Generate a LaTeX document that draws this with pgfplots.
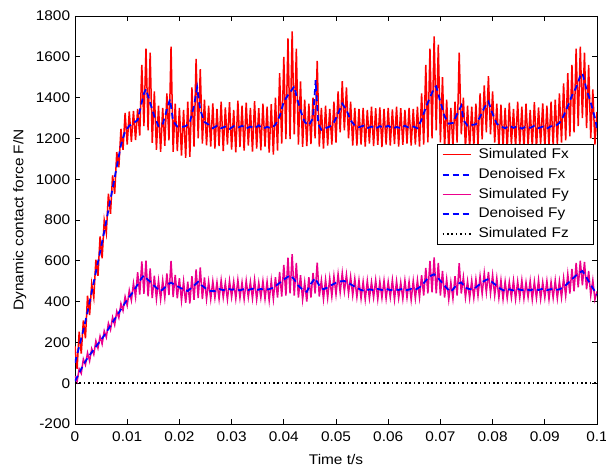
\documentclass[border=0pt]{standalone}
\usepackage{fontspec}
\setmainfont{Liberation Sans}[FakeStretch=1.1]
\usepackage{pgfplots}
\pgfplotsset{compat=1.18}

\begin{document}
\fontsize{14pt}{16pt}\selectfont
\begin{tikzpicture}
\begin{axis}[
  name=ax,
  scale only axis, width=522pt, height=408pt,
  xmin=0, xmax=0.1, ymin=-200, ymax=1800,
  xtick={0,0.01,0.02,0.03,0.04,0.05,0.06,0.07,0.08,0.09,0.1},
  xticklabels={0,0.01,0.02,0.03,0.04,0.05,0.06,0.07,0.08,0.09,0.1},
  ytick={-200,0,200,400,600,800,1000,1200,1400,1600,1800},
  yticklabels={-200,0,200,400,600,800,1000,1200,1400,1600,1800},
  tick align=inside, xtick pos=both, ytick pos=both,
  xticklabel pos=bottom, yticklabel pos=left,
  major tick length=5pt, minor tick num=0,
  every tick/.style={black, line width=0.7pt},
  axis line style={line width=0.8pt},
  tick label style={font=\fontsize{14pt}{16pt}\selectfont},
  xticklabel style={yshift=-3pt},
  label style={font=\fontsize{14pt}{16pt}\selectfont},
  xlabel={Time t/s},
  xlabel style={yshift=-3pt},
  ylabel={Dynamic contact force F/N},
  legend style={at={(0.994,0.686)}, anchor=north east, draw=black,
    line width=0.7pt, fill=white, inner xsep=4pt, inner ysep=3pt,
    font=\fontsize{14pt}{16pt}\selectfont, row sep=4.8pt,
    nodes={inner sep=1pt, text height=10pt, text depth=3pt, text width=110pt, align=left},
    /tikz/every odd column/.append style={column sep=6pt}},
  legend cell align=left,
  legend image code/.code={\draw[#1] (0pt,0pt) -- (28pt,0pt);},
]
% simulated Fx (high-frequency oscillation)
\addplot[color=red, line width=1.5pt,
  legend image code/.code={\draw[color=red, line width=1pt] (0pt,0pt) -- (28pt,0pt);}] coordinates {
(0,180)(0.0004,70)(0.0008,252)(0.0012,145)(0.0016,308)(0.002,220)(0.0024,429)(0.0028,334)(0.0032,487)(0.0036,420)
(0.004,605)(0.0044,526)(0.0048,719)(0.0052,612)(0.0056,799)(0.006,736)(0.0064,929)(0.0068,830)(0.0072,1019)(0.0076,928)
(0.008,1133)(0.0084,1058)(0.0088,1247)(0.0092,1144)(0.0096,1325)(0.01,1170)(0.0104,1332)(0.0108,1183)(0.0112,1335)(0.0116,1192)
(0.012,1345)(0.0124,1214)(0.0128,1560)(0.0132,1260)(0.0136,1640)(0.014,1240)(0.0144,1620)(0.0148,1178)(0.0152,1430)(0.0156,1144)
(0.016,1360)(0.0164,1134)(0.0168,1350)(0.0172,1164)(0.0176,1420)(0.018,1190)(0.0184,1650)(0.0188,1134)(0.0192,1370)(0.0196,1138)
(0.02,1350)(0.0204,1116)(0.0208,1340)(0.0212,1105)(0.0216,1380)(0.022,1110)(0.0224,1450)(0.0228,1160)(0.0232,1590)(0.0236,1200)
(0.024,1540)(0.0244,1174)(0.0248,1390)(0.0252,1166)(0.0256,1360)(0.026,1160)(0.0264,1372)(0.0268,1150)(0.0272,1345)(0.0276,1162)
(0.028,1380)(0.0284,1138)(0.0288,1352)(0.0292,1170)(0.0296,1378)(0.03,1145)(0.0304,1340)(0.0308,1132)(0.0312,1385)(0.0316,1158)
(0.032,1360)(0.0324,1140)(0.0328,1375)(0.0332,1165)(0.0336,1350)(0.034,1135)(0.0344,1382)(0.0348,1150)(0.0352,1348)(0.0356,1142)
(0.036,1370)(0.0364,1160)(0.0368,1355)(0.0372,1130)(0.0376,1368)(0.038,1120)(0.0384,1400)(0.0388,1140)(0.0392,1520)(0.0396,1174)
(0.04,1600)(0.0404,1196)(0.0408,1690)(0.0412,1196)(0.0416,1725)(0.042,1220)(0.0424,1640)(0.0428,1170)(0.0432,1480)(0.0436,1158)
(0.044,1390)(0.0444,1162)(0.0448,1370)(0.0452,1172)(0.0456,1400)(0.046,1200)(0.0464,1580)(0.0468,1160)(0.0472,1350)(0.0476,1150)
(0.048,1360)(0.0484,1165)(0.0488,1345)(0.0492,1170)(0.0496,1380)(0.05,1180)(0.0504,1430)(0.0508,1230)(0.0512,1480)(0.0516,1240)
(0.052,1450)(0.0524,1200)(0.0528,1380)(0.0532,1165)(0.0536,1350)(0.054,1165)(0.0544,1345)(0.0548,1170)(0.0552,1350)(0.0556,1160)
(0.056,1340)(0.0564,1175)(0.0568,1355)(0.0572,1162)(0.0576,1348)(0.058,1168)(0.0584,1352)(0.0588,1158)(0.0592,1345)(0.0596,1170)
(0.06,1350)(0.0604,1165)(0.0608,1342)(0.0612,1172)(0.0616,1355)(0.062,1160)(0.0624,1348)(0.0628,1168)(0.0632,1340)(0.0636,1175)
(0.064,1350)(0.0644,1165)(0.0648,1345)(0.0652,1170)(0.0656,1355)(0.066,1160)(0.0664,1420)(0.0668,1170)(0.0672,1560)(0.0676,1180)
(0.068,1640)(0.0684,1200)(0.0688,1700)(0.0692,1240)(0.0696,1660)(0.07,1180)(0.0704,1500)(0.0708,1150)(0.0712,1390)(0.0716,1140)
(0.072,1350)(0.0724,1160)(0.0728,1380)(0.0732,1180)(0.0736,1620)(0.074,1220)(0.0744,1400)(0.0748,1150)(0.0752,1360)(0.0756,1150)
(0.076,1355)(0.0764,1160)(0.0768,1370)(0.0772,1170)(0.0776,1420)(0.078,1195)(0.0784,1460)(0.0788,1230)(0.0792,1505)(0.0796,1220)
(0.08,1430)(0.0804,1180)(0.0808,1370)(0.0812,1155)(0.0816,1365)(0.082,1160)(0.0824,1350)(0.0828,1150)(0.0832,1375)(0.0836,1168)
(0.084,1345)(0.0844,1155)(0.0848,1380)(0.0852,1162)(0.0856,1355)(0.086,1148)(0.0864,1370)(0.0868,1165)(0.0872,1340)(0.0876,1158)
(0.088,1378)(0.0884,1150)(0.0888,1352)(0.0892,1170)(0.0896,1372)(0.09,1155)(0.0904,1360)(0.0908,1160)(0.0912,1380)(0.0916,1165)
(0.092,1390)(0.0924,1170)(0.0928,1420)(0.0932,1180)(0.0936,1470)(0.094,1190)(0.0944,1520)(0.0948,1210)(0.0952,1560)(0.0956,1230)
(0.096,1640)(0.0964,1260)(0.0968,1650)(0.0972,1300)(0.0976,1620)(0.098,1250)(0.0984,1560)(0.0988,1200)(0.0992,1440)(0.0996,1170)
(0.1,1330)};
\addlegendentry{Simulated Fx}
% denoised Fx
\addplot[color=blue, line width=1.8pt, dash pattern=on 6pt off 4pt] coordinates {
(0,100)(0.0008,180)(0.0016,260)(0.0024,349)(0.0032,447)(0.004,545)(0.0048,643)(0.0056,743)(0.0064,849)(0.0072,955)
(0.008,1061)(0.0088,1167)(0.0096,1235)(0.0104,1262)(0.0112,1275)(0.012,1290)(0.0128,1378)(0.0132,1420)(0.0136,1442)(0.0144,1374)
(0.0152,1308)(0.016,1260)(0.0168,1268)(0.0176,1342)(0.0182,1392)(0.0188,1284)(0.0196,1258)(0.0204,1256)(0.0212,1260)(0.022,1280)
(0.0228,1360)(0.0234,1450)(0.024,1340)(0.0248,1280)(0.0256,1268)(0.0264,1250)(0.0272,1262)(0.028,1250)(0.0288,1258)(0.0296,1246)
(0.0304,1260)(0.0312,1252)(0.032,1262)(0.0328,1248)(0.0336,1258)(0.0344,1250)(0.0352,1264)(0.036,1248)(0.0368,1256)(0.0376,1250)
(0.0384,1267)(0.0392,1308)(0.04,1380)(0.0408,1412)(0.0416,1440)(0.042,1455)(0.0424,1410)(0.0432,1336)(0.044,1280)(0.0448,1264)
(0.0456,1300)(0.0461,1485)(0.0466,1270)(0.0472,1242)(0.048,1250)(0.0488,1258)(0.0496,1278)(0.0504,1322)(0.0512,1370)(0.052,1340)
(0.0528,1288)(0.0536,1263)(0.0544,1255)(0.0552,1262)(0.056,1250)(0.0568,1258)(0.0576,1248)(0.0584,1260)(0.0592,1252)(0.06,1262)
(0.0608,1248)(0.0616,1256)(0.0624,1250)(0.0632,1262)(0.064,1252)(0.0648,1258)(0.0656,1250)(0.0664,1292)(0.0672,1352)(0.068,1400)
(0.0688,1448)(0.0692,1455)(0.07,1380)(0.0708,1308)(0.0716,1272)(0.0724,1276)(0.0732,1320)(0.074,1360)(0.0744,1290)(0.0752,1262)
(0.076,1266)(0.0768,1269)(0.0776,1306)(0.0784,1350)(0.0792,1380)(0.08,1320)(0.0808,1272)(0.0816,1258)(0.0824,1250)(0.0832,1262)
(0.084,1252)(0.0848,1260)(0.0856,1248)(0.0864,1258)(0.0872,1252)(0.088,1262)(0.0888,1250)(0.0896,1258)(0.0904,1248)(0.0912,1260)
(0.092,1260)(0.0928,1276)(0.0936,1310)(0.0944,1358)(0.0952,1410)(0.096,1450)(0.0968,1506)(0.0972,1520)(0.098,1440)(0.0988,1376)
(0.0996,1300)(0.1,1250)};
\addlegendentry{Denoised Fx}
% simulated Fy
\addplot[color=magenta, line width=1.5pt,
  legend image code/.code={\draw[color=magenta, line width=1pt] (0pt,0pt) -- (28pt,0pt);}] coordinates {
(0,35)(0.0004,8)(0.0008,70)(0.0012,48)(0.0016,118)(0.002,90)(0.0024,149)(0.0028,109)(0.0032,169)(0.0036,141)
(0.004,207)(0.0044,172)(0.0048,230)(0.0052,192)(0.0056,256)(0.006,225)(0.0064,294)(0.0068,262)(0.0072,323)(0.0076,286)
(0.008,352)(0.0084,321)(0.0088,390)(0.0092,356)(0.0096,424)(0.01,381)(0.0104,455)(0.0108,406)(0.0112,490)(0.0116,422)
(0.012,544)(0.0124,435)(0.0128,597)(0.0132,438)(0.0136,601)(0.014,426)(0.0144,562)(0.0148,417)(0.0152,527)(0.0156,413)
(0.016,503)(0.0164,411)(0.0168,505)(0.0172,419)(0.0176,538)(0.018,432)(0.0184,600)(0.0188,422)(0.0192,531)(0.0196,416)
(0.02,515)(0.0204,405)(0.0208,499)(0.0212,394)(0.0216,497)(0.022,391)(0.0224,525)(0.0228,409)(0.0232,558)(0.0236,417)
(0.024,567)(0.0244,412)(0.0248,518)(0.0252,412)(0.0256,498)(0.026,412)(0.0264,500)(0.0268,418)(0.0272,495)(0.0276,412)
(0.028,505)(0.0284,420)(0.0288,492)(0.0292,410)(0.0296,502)(0.03,422)(0.0304,498)(0.0308,414)(0.0312,506)(0.0316,418)
(0.032,494)(0.0324,411)(0.0328,503)(0.0332,421)(0.0336,497)(0.034,415)(0.0344,507)(0.0348,410)(0.0352,493)(0.0356,419)
(0.036,501)(0.0364,413)(0.0368,498)(0.0372,405)(0.0376,504)(0.038,412)(0.0384,520)(0.0388,420)(0.0392,545)(0.0396,425)
(0.04,580)(0.0404,430)(0.0408,615)(0.0412,440)(0.0416,632)(0.042,430)(0.0424,590)(0.0428,420)(0.0432,530)(0.0436,410)
(0.044,495)(0.0444,400)(0.0448,520)(0.0452,420)(0.0456,540)(0.046,440)(0.0464,591)(0.0468,425)(0.0472,505)(0.0476,412)
(0.048,508)(0.0484,418)(0.0488,515)(0.0492,425)(0.0496,525)(0.05,435)(0.0504,535)(0.0508,445)(0.0512,540)(0.0516,450)
(0.052,532)(0.0524,440)(0.0528,522)(0.0532,430)(0.0536,512)(0.054,422)(0.0544,505)(0.0548,415)(0.0552,498)(0.0556,410)
(0.056,502)(0.0564,416)(0.0568,496)(0.0572,420)(0.0576,505)(0.058,412)(0.0584,499)(0.0588,418)(0.0592,503)(0.0596,414)
(0.06,497)(0.0604,421)(0.0608,506)(0.0612,410)(0.0616,500)(0.062,417)(0.0624,494)(0.0628,413)(0.0632,504)(0.0636,419)
(0.064,498)(0.0644,408)(0.0648,502)(0.0652,415)(0.0656,505)(0.066,420)(0.0664,530)(0.0668,430)(0.0672,565)(0.0676,440)
(0.068,600)(0.0684,445)(0.0688,616)(0.0692,440)(0.0696,590)(0.07,430)(0.0704,550)(0.0708,420)(0.0712,510)(0.0716,410)
(0.072,495)(0.0724,415)(0.0728,525)(0.0732,430)(0.0736,588)(0.074,440)(0.0744,520)(0.0748,420)(0.0752,500)(0.0756,416)
(0.076,503)(0.0764,418)(0.0768,510)(0.0772,428)(0.0776,525)(0.078,438)(0.0784,540)(0.0788,445)(0.0792,545)(0.0796,440)
(0.08,530)(0.0804,430)(0.0808,515)(0.0812,418)(0.0816,505)(0.082,412)(0.0824,498)(0.0828,416)(0.0832,496)(0.0836,420)
(0.084,503)(0.0844,412)(0.0848,499)(0.0852,418)(0.0856,505)(0.086,414)(0.0864,494)(0.0868,421)(0.0872,502)(0.0876,410)
(0.088,498)(0.0884,417)(0.0888,506)(0.0892,413)(0.0896,495)(0.09,419)(0.0904,501)(0.0908,411)(0.0912,497)(0.0916,418)
(0.092,504)(0.0924,415)(0.0928,500)(0.0932,420)(0.0936,515)(0.094,428)(0.0944,535)(0.0948,440)(0.0952,560)(0.0956,450)
(0.096,590)(0.0964,470)(0.0968,600)(0.0972,480)(0.0976,595)(0.098,460)(0.0984,550)(0.0988,430)(0.0992,505)(0.0996,410)
(0.1,450)};
\addlegendentry{Simulated Fy}
% denoised Fy
\addplot[color=blue, line width=1.8pt, dash pattern=on 6pt off 4pt] coordinates {
(0,10)(0.0008,50)(0.0016,90)(0.0024,124)(0.0032,151)(0.004,179)(0.0048,206)(0.0056,234)(0.0064,266)(0.0072,298)
(0.008,330)(0.0088,362)(0.0096,394)(0.0104,423)(0.0112,450)(0.012,484)(0.0128,517)(0.0132,528)(0.0136,516)(0.0144,497)
(0.0152,477)(0.016,458)(0.0164,451)(0.0172,469)(0.018,487)(0.0184,493)(0.0192,481)(0.02,470)(0.0208,459)(0.0216,452)
(0.0224,470)(0.0232,488)(0.0236,497)(0.0244,477)(0.0252,462)(0.026,452)(0.0268,452)(0.0276,462)(0.0284,456)(0.0292,464)
(0.03,458)(0.0308,462)(0.0316,455)(0.0324,462)(0.0332,457)(0.034,463)(0.0348,456)(0.0356,462)(0.0364,458)(0.0372,461)
(0.038,468)(0.0388,484)(0.0396,500)(0.0404,515)(0.0412,529)(0.042,509)(0.0428,478)(0.0436,458)(0.0444,448)(0.0452,488)
(0.046,515)(0.0468,478)(0.0476,460)(0.0484,470)(0.0492,482)(0.05,492)(0.0508,499)(0.0516,501)(0.0524,491)(0.0532,479)
(0.054,468)(0.0548,457)(0.0556,452)(0.0564,460)(0.0572,456)(0.058,462)(0.0588,457)(0.0596,463)(0.0604,456)(0.0612,461)
(0.062,457)(0.0628,463)(0.0636,456)(0.0644,462)(0.0652,458)(0.066,470)(0.0668,490)(0.0676,516)(0.0684,530)(0.0688,534)
(0.0696,514)(0.0704,490)(0.0712,466)(0.072,448)(0.0728,472)(0.0736,490)(0.074,494)(0.0748,468)(0.0756,461)(0.0764,461)
(0.0772,478)(0.078,495)(0.0788,507)(0.0792,510)(0.08,494)(0.0808,477)(0.0816,461)(0.0824,452)(0.0832,460)(0.084,455)
(0.0848,462)(0.0856,456)(0.0864,461)(0.0872,455)(0.088,462)(0.0888,457)(0.0896,463)(0.0904,456)(0.0912,461)(0.092,457)
(0.0928,460)(0.0936,470)(0.0944,490)(0.0952,510)(0.096,528)(0.0968,544)(0.0972,550)(0.098,518)(0.0988,482)(0.0996,450)
(0.1,432)};
\addlegendentry{Denoised Fy}
% simulated Fz
\addplot[color=black, line width=1.6pt, dash pattern=on 1.6pt off 2.8pt] coordinates {(0,0)(0.1,0)};
\addlegendentry{Simulated Fz}
\end{axis}
\pgfresetboundingbox
\useasboundingbox ([xshift=-75pt,yshift=-44pt]ax.south west) rectangle ([xshift=9pt,yshift=16pt]ax.north east);
\end{tikzpicture}
\end{document}
